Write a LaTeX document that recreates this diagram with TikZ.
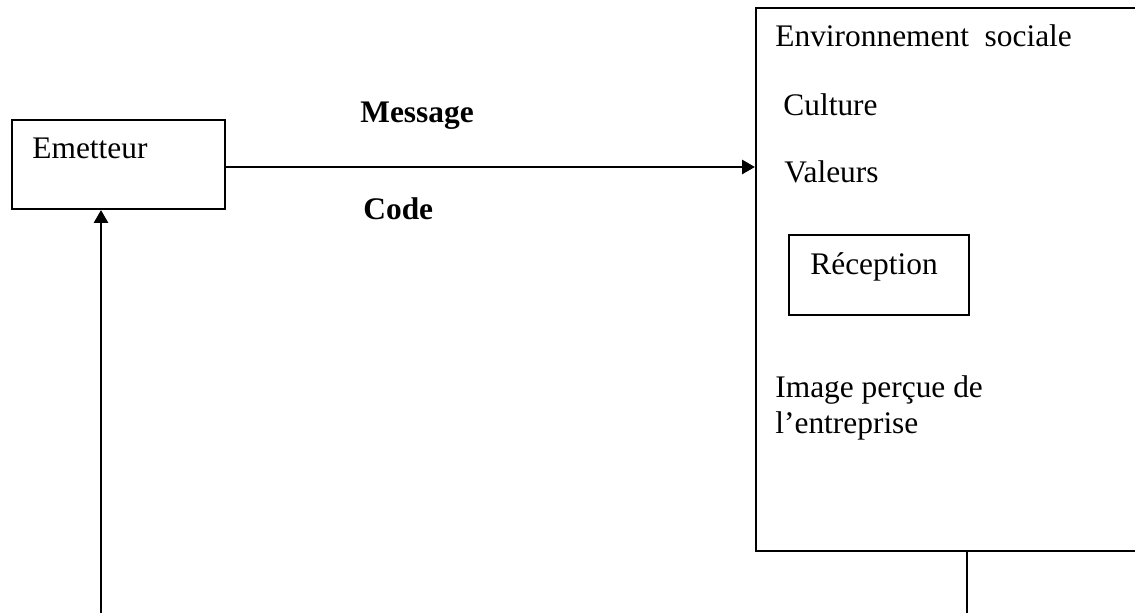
\documentclass[tikz,border=0pt]{standalone}
\usepackage{fontspec}
\setmainfont{Liberation Serif}
\usetikzlibrary{arrows.meta}
\begin{document}
\begin{tikzpicture}[x=0.5pt,y=-0.5pt,
  box/.style={draw,line width=1pt,inner sep=0pt,anchor=north west},
  lbl/.style={anchor=base west,inner sep=0pt,font=\fontsize{15.7}{18}\selectfont},
  bold/.style={lbl,font=\fontsize{15.7}{18}\selectfont\bfseries},
  link/.style={line width=1.4pt},
  tip/.style={-{Triangle[length=6.5pt,width=7pt]}}]
\useasboundingbox (0,0) rectangle (1135,613);
\clip (0,0) rectangle (1135,613);

% sender box
\node[box,minimum width=106.5pt,minimum height=44.5pt] (em) at (11,119) {};
\node[lbl] (emt) at (32,159) {Emetteur};

% receiving environment (runs past the right edge)
\node[box,minimum width=200pt,minimum height=271.5pt] (env) at (755,7) {};
\node[lbl] (envt) at (775,47) {Environnement\ \ sociale};
\node[lbl] (cul) at (783,116) {Culture};
\node[lbl] (val) at (784,183) {Valeurs};
\node[box,minimum width=90pt,minimum height=40pt] (rec) at (788,234) {};
\node[lbl] (rect) at (810,275) {Réception};
\node[lbl] (img) at (775,398) {Image perçue de};
\node[lbl] (ent) at (775,434) {l’entreprise};

% message channel labels
\node[bold] (msg) at (360,123) {Message};
\node[bold] (code) at (363,220) {Code};

% free ends at the lower edge
\coordinate (fb) at (101,613);
\coordinate (out) at (967,613);
\coordinate (ch) at (0,167);

% connectors
\draw[link,tip] (em.east |- ch) -- (env.west |- ch);
\draw[link,tip] (fb) -- (fb |- em.south);
\draw[line width=1pt] (env.south -| out) -- (out);
\end{tikzpicture}
\end{document}
